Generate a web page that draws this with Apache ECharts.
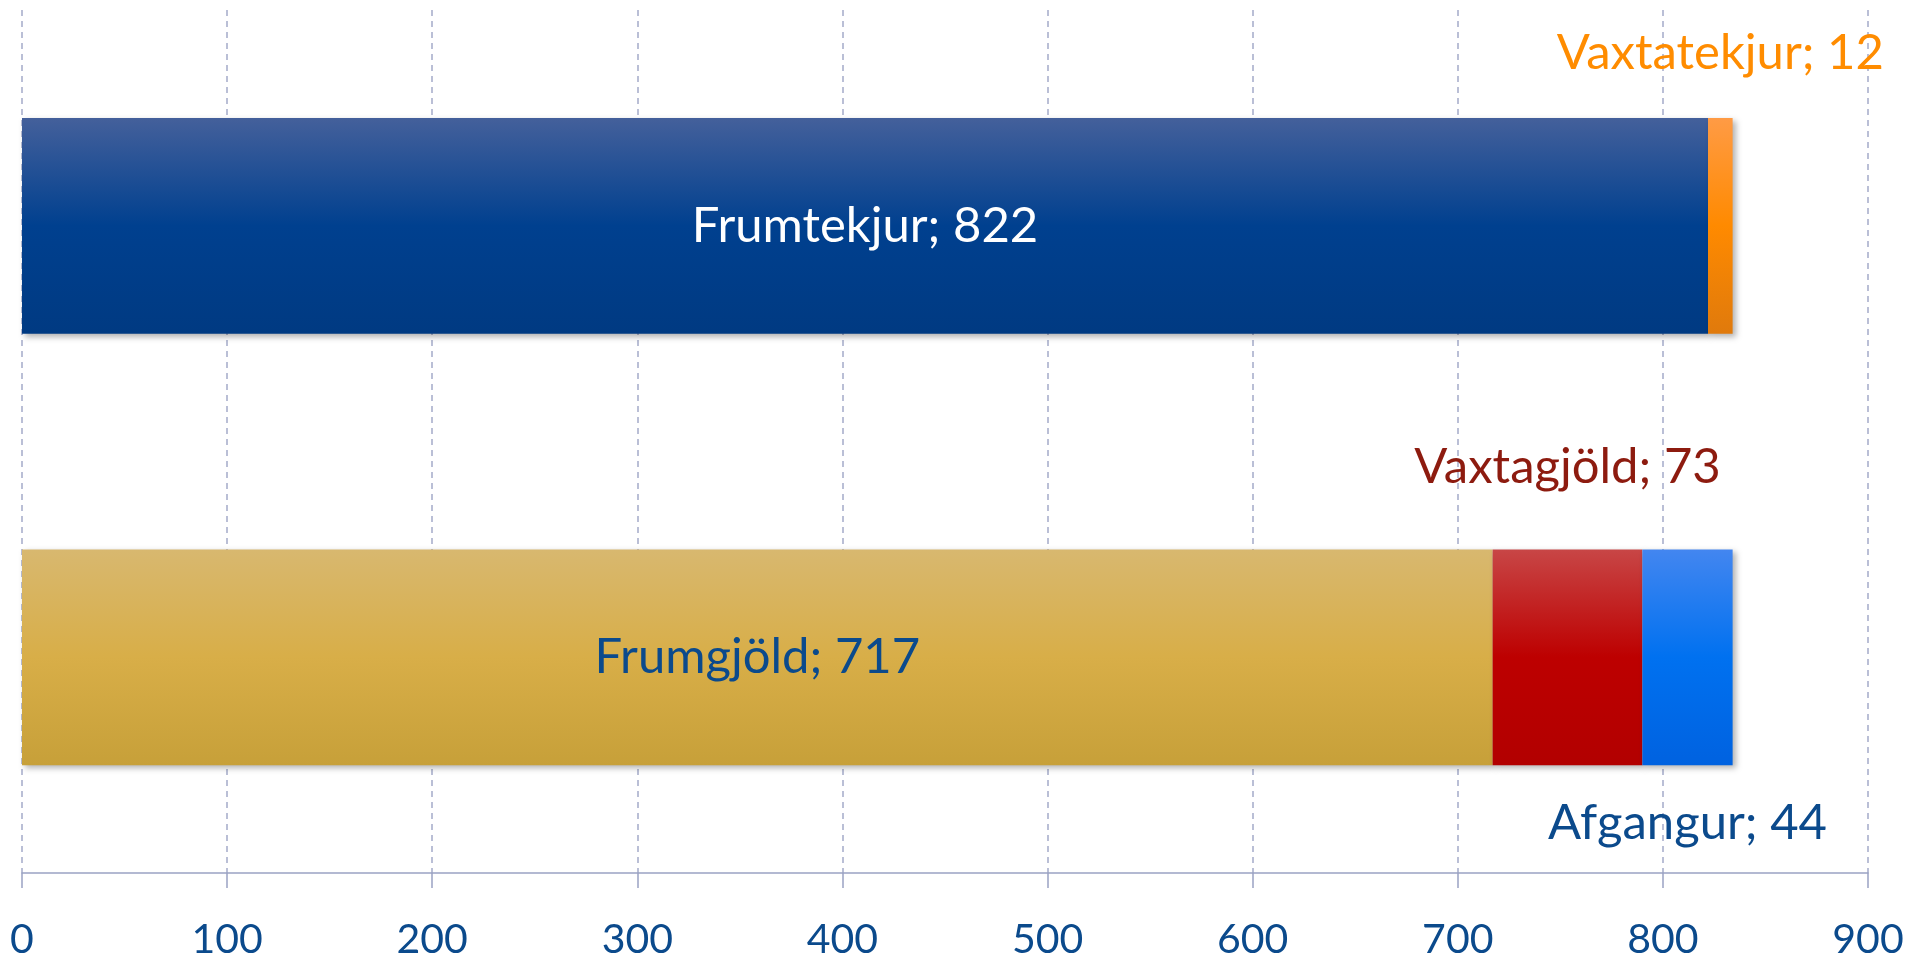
<!DOCTYPE html>
<html><head><meta charset="utf-8">
<script src="https://cdn.jsdelivr.net/npm/echarts@6/dist/echarts.min.js"></script>
<style>html,body{margin:0;padding:0;background:#fff}#c{width:1921px;height:963px}</style>
</head><body><div id="c"></div>
<script>
const categories = ['Gjöld', 'Tekjur'];
const frumtekjur = ['-', 822];
const vaxtatekjur = ['-', 12];
const frumgjold = [717, '-'];
const vaxtagjold = [73, '-'];
const afgangur = [44, '-'];
const xTicks = { min: 0, max: 900, interval: 100 };

const FONT = 'Lato';
const FS = 49;
function grad(a, b, c) {
  return { type: 'linear', x: 0, y: 0, x2: 0, y2: 1,
    colorStops: [{ offset: 0, color: a }, { offset: 0.5, color: b }, { offset: 1, color: c }] };
}
const shadow = { shadowBlur: 6, shadowOffsetX: 3, shadowOffsetY: 3, shadowColor: 'rgba(0,0,0,0.3)' };
function lab(pos, color, dist) {
  return { show: true, position: pos, distance: dist, color: color, fontFamily: FONT, fontSize: FS,
    formatter: p => p.seriesName + '; ' + p.value };
}
const chart = echarts.init(document.getElementById('c'));
chart.setOption({
  animation: false,
  grid: { left: 22, right: 53, top: 10, bottom: 90 },
  xAxis: {
    type: 'value', min: xTicks.min, max: xTicks.max, interval: xTicks.interval,
    axisLine: { show: true, lineStyle: { color: '#9aa3c4', width: 1.5 } },
    axisTick: { show: true, length: 15, lineStyle: { color: '#9aa3c4', width: 1.5 } },
    splitLine: { show: true, lineStyle: { color: '#a4abc9', type: [6, 5], width: 1.5 } },
    axisLabel: { color: '#0b4a8c', fontFamily: FONT, fontSize: 41, margin: 46 }
  },
  yAxis: {
    type: 'category', data: categories,
    axisLine: { show: false }, axisTick: { show: false }, axisLabel: { show: false }, splitLine: { show: false }
  },
  series: [
    { name: 'Frumtekjur', type: 'bar', stack: 't', data: frumtekjur, barWidth: '50%',
      itemStyle: Object.assign({ color: grad('#44609b', '#00408f', '#003a82') }, shadow),
      label: lab('inside', '#ffffff', 5) },
    { name: 'Vaxtatekjur', type: 'bar', stack: 't', data: vaxtatekjur, barWidth: '50%',
      itemStyle: Object.assign({ color: grad('#ff9b45', '#ff8a00', '#e07a0c') }, shadow),
      label: lab('top', '#ff8c00', 40) },
    { name: 'Frumgjöld', type: 'bar', stack: 't', data: frumgjold, barWidth: '50%',
      itemStyle: Object.assign({ color: grad('#d8b86f', '#d8ae48', '#c7a039') }, shadow),
      label: lab('inside', '#0b4a8c', 5) },
    { name: 'Vaxtagjöld', type: 'bar', stack: 't', data: vaxtagjold, barWidth: '50%',
      itemStyle: Object.assign({ color: grad('#c84646', '#bd0000', '#b20000') }, shadow),
      label: lab('top', '#8d1b0f', 58) },
    { name: 'Afgangur', type: 'bar', stack: 't', data: afgangur, barWidth: '50%',
      itemStyle: Object.assign({ color: grad('#4386f0', '#0071f0', '#0062e0') }, shadow),
      label: lab('bottom', '#0b4a8c', 34) }
  ]
});
</script></body></html>
